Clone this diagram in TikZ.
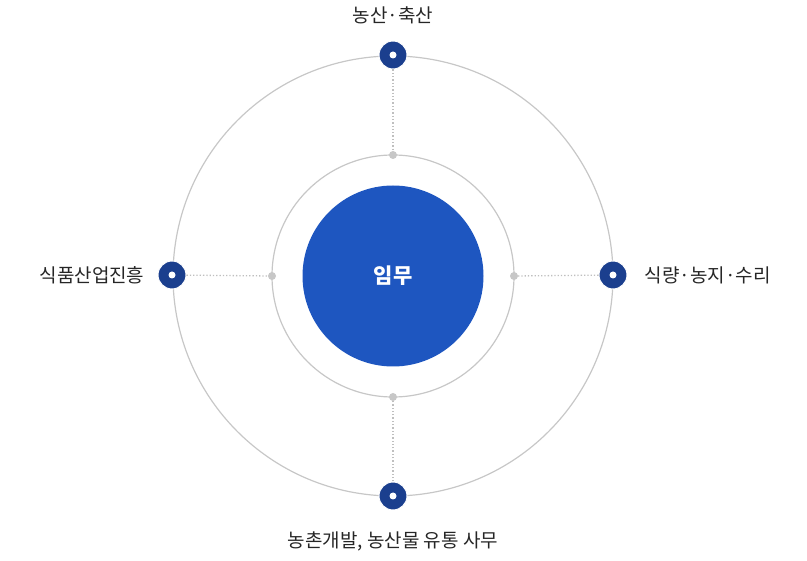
\documentclass[tikz,border=0pt]{standalone}
\usepackage{fontspec}
\newfontfamily\kr{Noto Sans CJK KR}
\begin{document}
\begin{tikzpicture}[x=1pt,y=-1pt,
  ring/.style={draw=black!22,line width=1.2pt},
  pin/.style={circle,fill=blue!60!black!95,minimum size=28pt,inner sep=0pt,draw=white,line width=1pt},
  hole/.style={circle,fill=white,minimum size=7pt,inner sep=0pt},
  gdot/.style={circle,fill=black!22,minimum size=8pt,inner sep=0pt},
  dotline/.style={draw=black!25,line width=1.3pt,dotted},
  lab/.style={font=\kr\fontsize{19}{22}\selectfont,text=black!85}]
\useasboundingbox (0,0) rectangle (807,561);
\definecolor{core}{HTML}{1E56C0}
\definecolor{pinc}{HTML}{1B3F8E}
\coordinate (c) at (393,276);
\draw[ring] (c) circle (220);
\draw[ring] (c) circle (121);
\node[circle,fill=core,minimum size=181pt,inner sep=0pt] (core) at (c) {};
\node[font=\kr\bfseries\fontsize{21}{24}\selectfont,text=white] (t) at (c) {임무};
\node[gdot] (gt) at (393,155) {};
\node[gdot] (gl) at (272,276) {};
\node[gdot] (gr) at (514,276) {};
\node[gdot] (gb) at (393,397) {};
\node[pin,fill=pinc] (pt) at (393,55) {};
\node[pin,fill=pinc] (pl) at (172,275) {};
\node[pin,fill=pinc] (pr) at (613,275) {};
\node[pin,fill=pinc] (pb) at (393,496) {};
\foreach \p in {pt,pl,pr,pb} \node[hole] at (\p) {};
\draw[dotline] (pt) -- (gt);
\draw[dotline] (pl) -- (gl);
\draw[dotline] (pr) -- (gr);
\draw[dotline] (pb) -- (gb);
\node[lab] (lt) at (393,15) {농산·축산};
\node[lab,anchor=east] (ll) at (148,275) {식품산업진흥};
\node[lab,anchor=west] (lr) at (641,275) {식량·농지·수리};
\node[lab] (lb) at (393,541) {농촌개발, 농산물 유통 사무};
\end{tikzpicture}
\end{document}
